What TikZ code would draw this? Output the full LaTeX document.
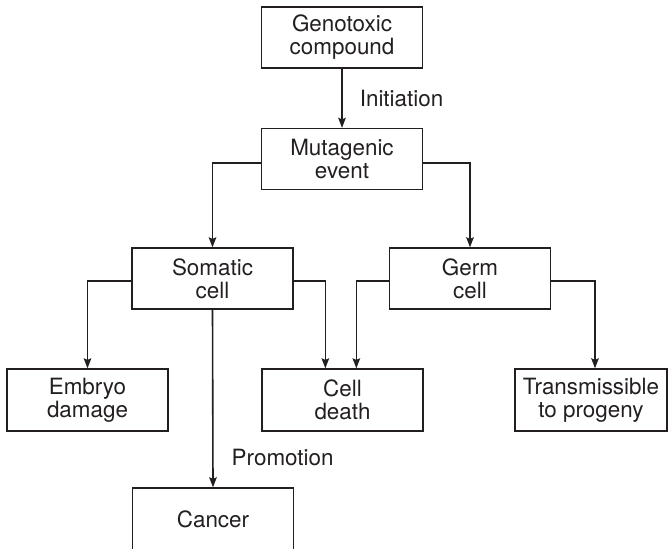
\documentclass[tikz,border=0pt]{standalone}
\usepackage{fontspec}
\setmainfont{TeX Gyre Heros}
\usetikzlibrary{arrows.meta}
\definecolor{ink}{RGB}{35,31,32}
\begin{document}
\begin{tikzpicture}[x=1bp,y=-1bp,
  box/.style={draw=ink, line width=1.3bp, minimum width=161bp, minimum height=61bp,
    inner sep=0pt, align=center, text=ink, font=\fontsize{22.5}{23}\selectfont},
  link/.style={draw=ink, line width=1.6bp,
    -{Stealth[length=10bp,width=7.5bp,inset=1.5bp]}},
  lbl/.style={text=ink, inner sep=0pt, font=\fontsize{22.5}{23}\selectfont}]
\useasboundingbox (0,0) rectangle (670,549);

% boxes
\node[box] (geno)   at (342,37.5)  {Genotoxic\\compound};
\node[box] (muta)   at (342,159)   {Mutagenic\\event};
\node[box] (soma)   at (212.5,278.5) {Somatic\\cell};
\node[box] (germ)   at (470,278.5) {Germ\\cell};
\node[box, minimum height=62bp] (embryo) at (87.5,400)  {Embryo\\damage};
\node[box, minimum height=62bp] (death)  at (342.5,400) {Cell\\death};
\node[box, minimum height=62bp, minimum width=152bp] (trans) at (591,400) {Transmissible\\to progeny};
\node[box, minimum height=62bp] (cancer) at (213,519) {Cancer};

% connectors
\draw[link] (geno.south) -- node[lbl, right=17bp] {Initiation} (muta.north);
\draw[link] ([yshift=-4bp]muta.west) -| (soma.north);
\draw[link] ([yshift=-4bp]muta.east) -| (germ.north);
\draw[link] ([yshift=-2.5bp]soma.west) -| (embryo.north);
\draw[link] ([yshift=-2.5bp]soma.east) -| ([xshift=64bp]death.north west);
\draw[link] ([yshift=-2.5bp]germ.west) -| ([xshift=95bp]death.north west);
\draw[link] ([yshift=-2.5bp]germ.east) -| ([xshift=4bp]trans.north);
\draw[link] (soma.south) -- node[lbl, pos=0.83, right=18bp] {Promotion} (cancer.north);
\end{tikzpicture}
\end{document}
